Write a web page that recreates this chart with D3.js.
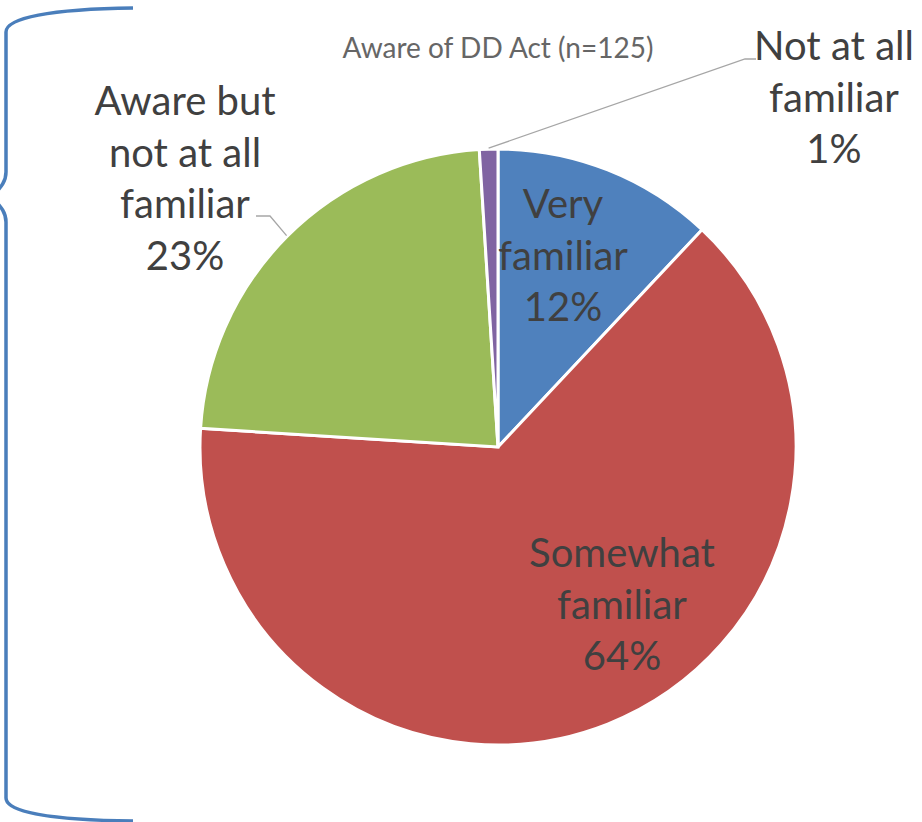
<!DOCTYPE html>
<html>
<head>
<meta charset="utf-8">
<script src="https://cdnjs.cloudflare.com/ajax/libs/d3/7.8.5/d3.min.js"></script>
<style>
  html, body { margin: 0; padding: 0; background: #ffffff; }
  svg { display: block; }
</style>
</head>
<body>
<script>
// ---- data ----
const categories = ["Very familiar", "Somewhat familiar", "Aware but not at all familiar", "Not at all familiar"];
const values = [12, 64, 23, 1];
const labelLines = [
  ["Very", "familiar", "12%"],
  ["Somewhat", "familiar", "64%"],
  ["Aware but", "not at all", "familiar", "23%"],
  ["Not at all", "familiar", "1%"]
];
const colors = ["#4F81BD", "#C0504D", "#9BBB59", "#8064A2"];
const title = "Aware of DD Act (n=125)";

// ---- layout ----
const W = 922, H = 822;
const cx = 498, cy = 447, R = 298;
const fontFam = "Lato, 'Open Sans', 'Liberation Sans', sans-serif";
const labelFont = 40;
const lineH = 51.5;
// label anchors: center x, first baseline y
const labelPos = [
  { x: 563, y: 218 },
  { x: 622, y: 567 },
  { x: 185, y: 115 },
  { x: 834, y: 60 }
];

const svg = d3.select("body").append("svg")
  .attr("width", W).attr("height", H);

// bracket
const bp = d3.path();
bp.moveTo(133, 8);
bp.bezierCurveTo(50, 9, 6, 18, 6, 32);
bp.lineTo(6, 172);
bp.bezierCurveTo(6, 181, 2, 186, -8, 197);
bp.bezierCurveTo(2, 208, 6, 213, 6, 222);
bp.lineTo(6, 798);
bp.bezierCurveTo(6, 812, 50, 820, 133, 821);
svg.append("path").attr("d", bp.toString())
  .attr("fill", "none").attr("stroke", "#4A7EBB").attr("stroke-width", 3.5);

// pie
const pie = d3.pie().sort(null).value(d => d)(values);
const arc = d3.arc().innerRadius(0).outerRadius(R);
const g = svg.append("g").attr("transform", `translate(${cx},${cy})`);
g.selectAll("path.slice").data(pie).enter().append("path")
  .attr("class", "slice")
  .attr("d", arc)
  .attr("fill", (d, i) => colors[i])
  .attr("stroke", "#ffffff").attr("stroke-width", 3)
  .attr("stroke-linejoin", "miter");

// leader lines
function edgePt(d, frac) {
  const a = d.startAngle + (d.endAngle - d.startAngle) * frac;
  return [cx + (R + 1) * Math.sin(a), cy - (R + 1) * Math.cos(a)];
}
const purpleEdge = edgePt(pie[3], 0.5);
svg.append("polyline")
  .attr("points", [[purpleEdge[0], purpleEdge[1]], [745, 59], [756, 59]].map(p => p.join(",")).join(" "))
  .attr("fill", "none").attr("stroke", "#A6A6A6").attr("stroke-width", 1.3);
const greenEdge = edgePt(pie[2], 0.5);
svg.append("polyline")
  .attr("points", [[256, 216], [270, 216], [greenEdge[0], greenEdge[1]]].map(p => p.join(",")).join(" "))
  .attr("fill", "none").attr("stroke", "#A6A6A6").attr("stroke-width", 1.3);

// labels
labelLines.forEach((lines, i) => {
  const t = svg.append("text")
    .attr("text-anchor", "middle")
    .attr("font-family", fontFam)
    .attr("font-size", labelFont)
    .attr("fill", "#404040");
  lines.forEach((ln, j) => {
    t.append("tspan").attr("x", labelPos[i].x).attr("y", labelPos[i].y + j * lineH).text(ln);
  });
});

// title
svg.append("text")
  .attr("x", 498).attr("y", 58)
  .attr("text-anchor", "middle")
  .attr("font-family", fontFam)
  .attr("font-size", 28)
  .attr("fill", "#666666")
  .text(title);
</script>
</body>
</html>
